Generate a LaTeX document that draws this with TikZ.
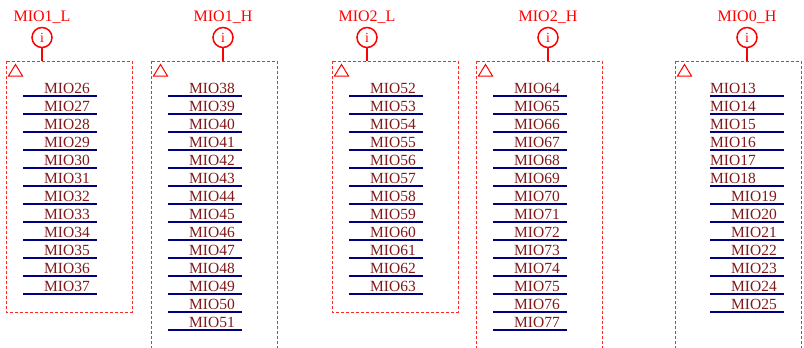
\documentclass[tikz,border=0pt]{standalone}
\usepackage{fontspec}
\setmainfont{Liberation Serif}
\definecolor{pinred}{RGB}{128,26,26}
\definecolor{netblue}{RGB}{0,0,128}
\definecolor{boxred}{RGB}{255,40,40}
\tikzset{
 netlabel/.style={text=pinred, font=\fontsize{15.5}{18}\selectfont, inner sep=0pt},
 netline/.style={draw=netblue, line width=1.5pt},
 grpbox/.style={draw=boxred, line width=1pt, dash pattern=on 3pt off 2pt},
 portlabel/.style={text=red, font=\fontsize{16}{19}\selectfont, inner sep=0pt, anchor=base},
 porticon/.style={circle, draw=red, line width=1.5pt, minimum size=20pt, inner sep=0pt, text=red, font=\fontsize{14}{16}\selectfont},
 portstem/.style={draw=red, line width=1.5pt},
 tri/.style={draw=red, line width=1pt}
}
\newcommand{\mygroup}[9]{%
 \node[portlabel] (lab#1) at (#5,21.5) {#2};
 \node[porticon] (icon#1) at (#5,37.5) {i};
 \coordinate (top#1) at (#5,61);
 \draw[grpbox] (#3,61) rectangle (#3+126,#4);
 \draw[tri] (#3+9.5,64.5) -- (#3+2.5,76) -- (#3+16.5,76) -- cycle;
 \draw[portstem] (icon#1.south) -- (top#1);
 \foreach \n [count=\k from 0] in {#7,...,#8} {
   \pgfmathsetmacro{\yy}{96+18*\k}
   \coordinate (a#1-\n) at (#6,\yy);
   \coordinate (b#1-\n) at (#6+74,\yy);
   \draw[netline] (a#1-\n) -- (b#1-\n);
   \ifnum\k<#9
     \node[netlabel, anchor=base west] (t#1-\n) at (#6,\yy-2.5) {MIO\n};
   \else
     \node[netlabel, anchor=base east] (t#1-\n) at (#6+67,\yy-2.5) {MIO\n};
   \fi
 }
}
\begin{document}
\begin{tikzpicture}[x=1pt,y=-1pt]
\useasboundingbox (0,0) rectangle (804,348);
\clip (0,0) rectangle (804,348);
\fill[white] (0,0) rectangle (804,348);
\mygroup{1}{MIO1\_L}{6}{312}{42}{23}{26}{37}{0}
\mygroup{2}{MIO1\_H}{151}{352}{223}{168}{38}{51}{0}
\mygroup{3}{MIO2\_L}{332}{312}{367}{349}{52}{63}{0}
\mygroup{4}{MIO2\_H}{476}{352}{548}{493}{64}{77}{0}
\mygroup{5}{MIO0\_H}{675}{352}{747}{710}{13}{25}{6}
\end{tikzpicture}
\end{document}
